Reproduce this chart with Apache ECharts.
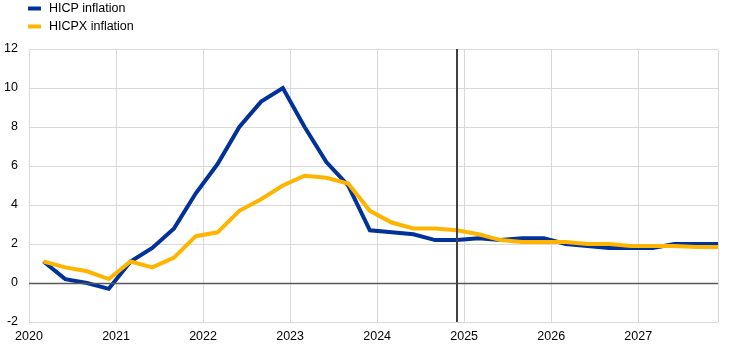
<!DOCTYPE html>
<html>
<head>
<meta charset="utf-8">
<script src="https://cdn.jsdelivr.net/npm/echarts@6/dist/echarts.min.js"></script>
<style>
  html, body { margin: 0; padding: 0; background: #ffffff; }
  #chart { width: 744px; height: 350px; }
</style>
</head>
<body>
<div id="chart"></div>
<script>
// Quarterly observations and projections, euro area inflation (% y-o-y)
const quarters = [
  '2020Q1','2020Q2','2020Q3','2020Q4',
  '2021Q1','2021Q2','2021Q3','2021Q4',
  '2022Q1','2022Q2','2022Q3','2022Q4',
  '2023Q1','2023Q2','2023Q3','2023Q4',
  '2024Q1','2024Q2','2024Q3','2024Q4',
  '2025Q1','2025Q2','2025Q3','2025Q4',
  '2026Q1','2026Q2','2026Q3','2026Q4',
  '2027Q1','2027Q2','2027Q3','2027Q4'
];
const hicp = [
  1.1, 0.2, 0.0, -0.3,
  1.1, 1.8, 2.8, 4.6,
  6.1, 8.0, 9.3, 10.0,
  8.0, 6.2, 5.0, 2.7,
  2.6, 2.5, 2.2, 2.2,
  2.3, 2.2, 2.3, 2.3,
  2.0, 1.9, 1.8, 1.8,
  1.8, 2.0, 2.0, 2.0
];
const hicpx = [
  1.1, 0.8, 0.6, 0.2,
  1.1, 0.8, 1.3, 2.4,
  2.6, 3.7, 4.3, 5.0,
  5.5, 5.4, 5.1, 3.7,
  3.1, 2.8, 2.8, 2.7,
  2.5, 2.2, 2.1, 2.1,
  2.1, 2.0, 2.0, 1.9,
  1.9, 1.9, 1.85, 1.85
];
const seriesNames = ['HICP inflation', 'HICPX inflation'];
const lastObserved = '2024Q4';
const firstYear = 2020;
const lastYear = 2027;
const yTicks = { min: -2, max: 12, step: 2 };

// Position a quarter on a monthly time line (quarter-end month, Jan 2020 = 0)
function monthIndex(q) {
  const year = parseInt(q.slice(0, 4), 10);
  const qq = parseInt(q.slice(5), 10);
  return (year - firstYear) * 12 + qq * 3 - 1;
}
const pairs = vals => quarters.map((q, i) => [monthIndex(q), vals[i]]);

const chart = echarts.init(document.getElementById('chart'), null, { renderer: 'canvas' });
const font = 'Arial, "Liberation Sans", sans-serif';
const fontSize = 12.5;
const monthMax = (lastYear - firstYear) * 12 + 11;

chart.setOption({
  animation: false,
  backgroundColor: '#ffffff',
  grid: { left: 29, right: 26, top: 49, bottom: 28, containLabel: false },
  legend: {
    orient: 'vertical',
    left: 28,
    top: 2,
    padding: 0,
    itemGap: 5,
    itemWidth: 13,
    itemHeight: 4,
    icon: 'rect',
    data: seriesNames,
    textStyle: { fontFamily: font, fontSize: fontSize, color: '#000000', padding: [0, 0, 0, 3] }
  },
  xAxis: {
    type: 'value',
    min: 0,
    max: monthMax,
    interval: 12,
    axisLine: { show: false },
    axisTick: { show: false },
    axisLabel: {
      margin: 8,
      fontFamily: font,
      fontSize: fontSize,
      color: '#000000',
      formatter: v => (v % 12 === 0 ? String(firstYear + v / 12) : '')
    },
    splitLine: { show: true, lineStyle: { color: '#d9d9d9', width: 1 } }
  },
  yAxis: {
    type: 'value',
    min: yTicks.min,
    max: yTicks.max,
    interval: yTicks.step,
    axisLine: { show: false },
    axisTick: { show: false },
    axisLabel: { margin: 11, fontFamily: font, fontSize: fontSize, color: '#000000' },
    splitLine: { show: true, lineStyle: { color: '#d9d9d9', width: 1 } }
  },
  series: [
    {
      name: seriesNames[0],
      type: 'line',
      data: pairs(hicp),
      symbol: 'none',
      lineStyle: { color: '#003299', width: 4, join: 'miter' },
      itemStyle: { color: '#003299' },
      z: 3
    },
    {
      name: seriesNames[1],
      type: 'line',
      data: pairs(hicpx),
      symbol: 'none',
      lineStyle: { color: '#ffb400', width: 4, join: 'miter' },
      itemStyle: { color: '#ffb400' },
      z: 4
    },
    {
      name: 'refs',
      type: 'line',
      data: [],
      z: 5,
      silent: true,
      markLine: {
        symbol: 'none',
        silent: true,
        label: { show: false },
        animation: false,
        data: [
          { yAxis: 0, lineStyle: { color: '#595959', width: 1.3, type: 'solid' } },
          { xAxis: monthIndex(lastObserved), lineStyle: { color: '#404040', width: 2, type: 'solid' } }
        ]
      }
    }
  ]
});
</script>
</body>
</html>
